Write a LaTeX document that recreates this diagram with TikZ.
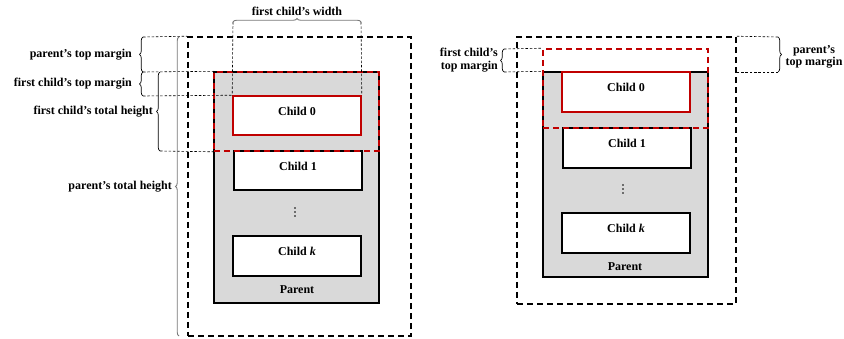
\documentclass[tikz,border=0pt]{standalone}
\usepackage{fontspec}
\setmainfont{Liberation Serif}
\usetikzlibrary{fit,decorations.pathreplacing}
\definecolor{dred}{RGB}{192,0,0}
\definecolor{pgray}{RGB}{217,217,217}
\definecolor{bgray}{RGB}{120,120,120}
\begin{document}
\begin{tikzpicture}[x=1pt,y=-1pt,
  font=\fontsize{12}{12.5}\selectfont\bfseries,
  outerbox/.style={draw=black,line width=1.6pt,dash pattern=on 6pt off 4pt,inner sep=0pt},
  parentbox/.style={draw=black,fill=pgray,line width=1.4pt,inner sep=0pt},
  childbox/.style={draw=black,fill=white,line width=1.6pt,inner sep=0pt},
  firstbox/.style={draw=dred,fill=white,line width=1.6pt,inner sep=0pt},
  reddash/.style={draw=dred,line width=1.6pt,dash pattern=on 6pt off 4pt,inner sep=0pt},
  guide/.style={draw=black,line width=0.6pt,dash pattern=on 2.5pt off 1.8pt},
  bracek/.style={draw=black,line width=0.7pt,decorate,decoration={brace,amplitude=3.5pt}},
  braceg/.style={draw=bgray,line width=0.9pt,decorate,decoration={brace,amplitude=3.5pt}},
  dotmark/.style={fill=black,draw=none,circle,inner sep=0pt,minimum size=1.9pt},
  lbl/.style={inner sep=0pt}]
\useasboundingbox (0,0) rectangle (844,339);
% ---------------- left diagram ----------------
\node[outerbox,fit={(188,37)(411,336)}] (outerL) {};
\node[parentbox,fit={(214,72)(379,303)}] (parentL) {};
\node[firstbox,fit={(233,96)(361,135)}] (c0L) {Child 0};
\node[childbox,fit={(234,151)(362,190)}] (c1L) {Child 1};
\node[dotmark] (dL1) at (295,208) {};
\node[dotmark] (dL2) at (295,212) {};
\node[dotmark] (dL3) at (295,216) {};
\node[childbox,fit={(233,236)(361,276)}] (ckL) {Child \textit{k}};
\node[lbl] (parlabL) at (297,290) {Parent};
\node[reddash,fit={(214,72)(379,151)}] (redL) {};
% guides
\coordinate (gA1) at (143,37);
\coordinate (gA2) at (143,72);
\coordinate (gA3) at (143,96);
\coordinate (gB1) at (160,72);
\coordinate (gB2) at (160,151);
\coordinate (gC1) at (179,37);
\coordinate (gC2) at (179,336);
\coordinate (gW1) at (233,22);
\coordinate (gW2) at (361,22);
\draw[guide] (gA1) -- (outerL.north west);
\draw[guide] (gA2) -- (parentL.north west);
\draw[guide] (gA3) -- (c0L.north west);
\draw[guide] (gB2) -- (redL.south west);
\draw[guide] (gW1) -- (c0L.north west);
\draw[guide] (gW2) -- (c0L.north east);
% braces
\draw[bracek] (gA2) -- (gA1);
\draw[bracek] (gA3) -- (gA2);
\draw[bracek] (gB2) -- (gB1);
\draw[braceg] (gC2) -- (gC1);
\draw[braceg] (gW1) -- (gW2);
\node[lbl,anchor=east] (tA1) at (132,55) {parent's top margin};
\node[lbl,anchor=east] (tA2) at (132,84) {first child's top margin};
\node[lbl,anchor=east] (tB) at (153,112) {first child's total height};
\node[lbl,anchor=east] (tC) at (172,187) {parent's total height};
\node[lbl] (tW) at (297,11) {first child's width};
% ---------------- right diagram ----------------
\node[outerbox,fit={(517,37)(736,304)}] (outerR) {};
\node[parentbox,fit={(543,72)(708,277)}] (parentR) {};
\node[firstbox,fit={(562,72)(690,112)}] (c0R) {Child 0};
\node[childbox,fit={(563,128)(691,168)}] (c1R) {Child 1};
\node[dotmark] (dR1) at (623,185) {};
\node[dotmark] (dR2) at (623,189) {};
\node[dotmark] (dR3) at (623,193) {};
\node[childbox,fit={(562,213)(690,253)}] (ckR) {Child \textit{k}};
\node[lbl] (parlabR) at (625,267) {Parent};
\node[reddash,fit={(543,49)(708,128)}] (redR) {};
\coordinate (gD1) at (504,49);
\coordinate (gD2) at (504,72);
\coordinate (gE1) at (778,37);
\coordinate (gE2) at (778,72);
\coordinate (gE3) at (736,72);
\draw[guide] (gD1) -- (redR.north west);
\draw[guide] (gD2) -- (parentR.north west);
\draw[guide] (gE1) -- (outerR.north east);
\draw[guide] (gE2) -- (gE3);
\draw[bracek] (gD2) -- (gD1);
\draw[bracek] (gE1) -- (gE2);
\node[lbl,anchor=east,align=right] (tD) at (498,60) {first child's\\top margin};
\node[lbl,align=center] (tE) at (814,57) {parent's\\top margin};
\end{tikzpicture}
\end{document}
